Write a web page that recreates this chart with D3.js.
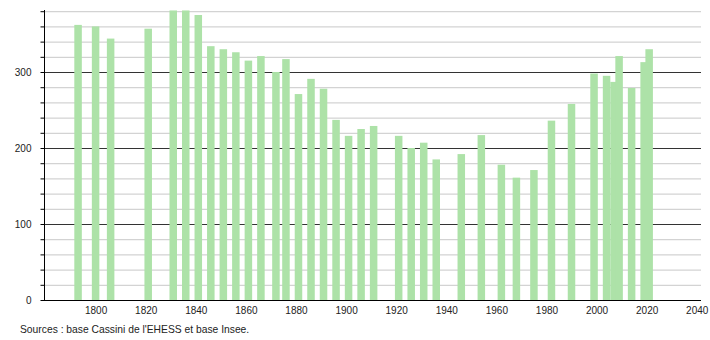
<!DOCTYPE html>
<html><head><meta charset="utf-8">
<script src="https://cdn.jsdelivr.net/npm/d3@7"></script>
<style>body{margin:0;background:#fff}svg{display:block}text{font-family:"Liberation Sans",Arial,sans-serif}</style>
</head><body>
<svg id="c" width="710" height="340"></svg>
<script>
const years = [1793,1800,1806,1821,1831,1836,1841,1846,1851,1856,1861,1866,1872,1876,1881,1886,1891,1896,1901,1906,1911,1921,1926,1931,1936,1946,1954,1962,1968,1975,1982,1990,1999,2004,2007,2009,2014,2019,2021];
const population = [362,360,344,357,381,381,375,334,330,326,315,321,300,317,271,291,278,237,216,225,229,216,200,207,185,192,217,178,161,171,236,258,298,295,287,321,279,313,330];
const xTicks = [1800,1820,1840,1860,1880,1900,1920,1940,1960,1980,2000,2020,2040];
const yTicks = [0,100,200,300];
const yMinor = [20,40,60,80,120,140,160,180,220,240,260,280,320,340,360,380];
const sourceText = "Sources : base Cassini de l'EHESS et base Insee.";

const svg = d3.select("#c");
const x = d3.scaleLinear().domain([1779.4, 2041.7]).range([44, 701]);
const y = d3.scaleLinear().domain([0, 381.6]).range([300, 10]);
const [x0, x1] = x.range();

svg.append("g").selectAll("line").data(yMinor).join("line")
  .attr("x1", x0).attr("x2", x1).attr("y1", d => y(d)+0.5).attr("y2", d => y(d)+0.5)
  .attr("stroke", "#c8c8c8").attr("stroke-width", 1);
svg.append("g").selectAll("line").data(yTicks.filter(d=>d>0)).join("line")
  .attr("x1", x0).attr("x2", x1).attr("y1", d => y(d)+0.5).attr("y2", d => y(d)+0.5)
  .attr("stroke", "#333").attr("stroke-width", 1);

const data = years.map((yr,i)=>({yr, v: population[i]}));
svg.append("g").selectAll("rect").data(data).join("rect")
  .attr("x", d => x(d.yr - 1.5)).attr("width", d => x(d.yr + 1.5) - x(d.yr - 1.5))
  .attr("y", d => y(d.v)).attr("height", d => y(0) - y(d.v))
  .attr("fill", "#ade2a8");

const ya = svg.append("g").attr("transform", `translate(${x0+0.5},0)`);
ya.call(d3.axisLeft(y).tickValues(yTicks.concat(yMinor)).tickSize(4).tickFormat(d => yTicks.includes(d) ? d : ""));
ya.select(".domain").attr("d", `M0,${y(0)}V${y.range()[1]}`).attr("stroke","#000");
ya.selectAll(".tick line").attr("stroke","#000");
ya.selectAll(".tick text").attr("font-size", 10).attr("fill","#222").attr("x", -13);

const xa = svg.append("g").attr("transform", `translate(0,${y(0)+0.5})`);
xa.call(d3.axisBottom(x).tickValues(xTicks).tickSize(0).tickFormat(d3.format("d")));
xa.select(".domain").attr("d", `M${x0},0H${x1}`).attr("stroke","#000");
xa.selectAll(".tick text").attr("font-size", 10).attr("fill","#222").attr("dy", "1.05em");

svg.append("text").attr("x", 20).attr("y", 333).attr("font-size", 10.3).attr("fill","#222").text(sourceText);
</script>
</body></html>
